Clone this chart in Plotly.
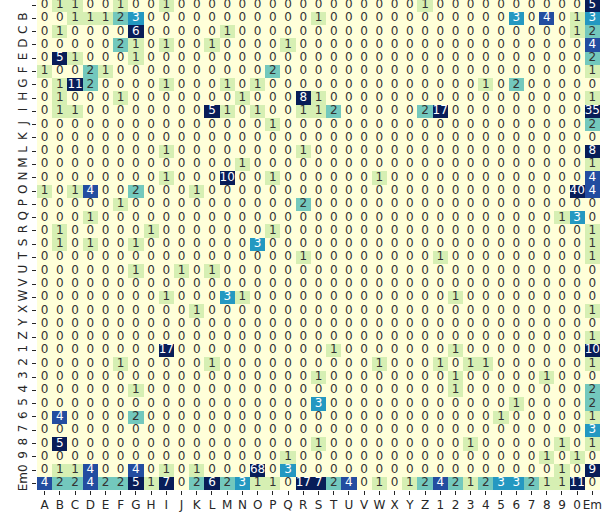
import plotly.graph_objects as go

labels = list("ABCDEFGHIJKLMNOPQRSTUVWXYZ") + ["1", "2", "3", "4", "5", "6", "7", "8", "9", "0", "Em"]

# rows = true class, columns = predicted class (same label order)
row_A  = [0,1,1,0,0,1,0,0,1,0, 0,0,0,0,0,0,0,0,0,0, 0,0,0,0,0,1,0,0,0,0, 0,0,0,0,0,0,5]
row_B  = [0,0,1,1,1,2,3,0,0,0, 0,0,0,0,0,0,0,0,1,0, 0,0,0,0,0,0,0,0,0,0, 0,3,0,4,0,1,3]
row_C  = [0,1,0,0,0,0,6,0,0,0, 0,0,1,0,0,0,0,0,0,0, 0,0,0,0,0,0,0,0,0,0, 0,0,0,0,0,1,2]
row_D  = [0,0,0,0,0,2,1,0,1,0, 0,1,0,0,0,0,1,0,0,0, 0,0,0,0,0,0,0,0,0,0, 0,0,0,0,0,0,4]
row_E  = [0,5,1,0,0,0,1,0,0,0, 0,0,0,0,0,0,0,0,0,0, 0,0,0,0,0,0,0,0,0,0, 0,0,0,0,0,0,2]
row_F  = [1,0,0,2,1,0,0,0,0,0, 0,0,0,0,0,2,0,0,0,0, 0,0,0,0,0,0,0,0,0,0, 0,0,0,0,0,0,1]
row_G  = [0,1,11,2,0,0,0,0,1,0, 0,0,1,0,1,0,0,0,0,0, 0,0,0,0,0,0,0,0,0,1, 0,2,0,0,0,0,0]
row_H  = [0,1,0,0,0,1,0,0,0,0, 0,0,0,1,0,0,0,8,1,0, 0,0,0,0,0,0,0,0,0,0, 0,0,0,0,0,0,1]
row_I  = [0,1,1,0,0,0,0,0,0,0, 0,5,1,0,1,0,0,1,1,2, 0,0,0,0,0,2,17,0,0,0, 0,0,0,0,0,0,35]
row_J  = [0,0,0,0,0,0,0,0,0,0, 0,0,0,0,0,1,0,0,0,0, 0,0,0,0,0,0,0,0,0,0, 0,0,0,0,0,0,2]
row_K  = [0,0,0,0,0,0,0,0,0,0, 0,0,0,0,0,0,0,0,0,0, 0,0,0,0,0,0,0,0,0,0, 0,0,0,0,0,0,0]
row_L  = [0,0,0,0,0,0,0,0,1,0, 0,0,0,0,0,0,0,1,0,0, 0,0,0,0,0,0,0,0,0,0, 0,0,0,0,0,0,8]
row_M  = [0,0,0,0,0,0,0,0,0,0, 0,0,0,1,0,0,0,0,0,0, 0,0,0,0,0,0,0,0,0,0, 0,0,0,0,0,0,1]
row_N  = [0,0,0,0,0,0,0,0,1,0, 0,0,10,0,0,1,0,0,0,0, 0,0,1,0,0,0,0,0,0,0, 0,0,0,0,0,0,4]
row_O  = [1,0,1,4,0,0,2,0,0,0, 1,0,0,0,0,0,0,0,0,0, 0,0,0,0,0,0,0,0,0,0, 0,0,0,0,0,40,4]
row_P  = [0,0,0,0,0,1,0,0,0,0, 0,0,0,0,0,0,0,2,0,0, 0,0,0,0,0,0,0,0,0,0, 0,0,0,0,0,0,0]
row_Q  = [0,0,0,1,0,0,0,0,0,0, 0,0,0,0,0,0,0,0,0,0, 0,0,0,0,0,0,0,0,0,0, 0,0,0,0,1,3,0]
row_R  = [0,1,0,0,0,0,0,1,0,0, 0,0,0,0,0,1,0,0,0,0, 0,0,0,0,0,0,0,0,0,0, 0,0,0,0,0,0,1]
row_S  = [0,1,0,1,0,0,1,0,0,0, 0,0,0,0,3,0,0,0,0,0, 0,0,0,0,0,0,0,0,0,0, 0,0,0,0,0,0,1]
row_T  = [0,0,0,0,0,0,0,0,0,0, 0,0,0,0,0,0,0,1,0,0, 0,0,0,0,0,0,1,0,0,0, 0,0,0,0,0,0,1]
row_U  = [0,0,0,0,0,0,1,0,0,1, 0,1,0,0,0,0,0,0,0,0, 0,0,0,0,0,0,0,0,0,0, 0,0,0,0,0,0,0]
row_V  = [0,0,0,0,0,0,0,0,0,0, 0,0,0,0,0,0,0,0,0,0, 0,0,0,0,0,0,0,0,0,0, 0,0,0,0,0,0,0]
row_W  = [0,0,0,0,0,0,0,0,1,0, 0,0,3,1,0,0,0,0,0,0, 0,0,0,0,0,0,0,1,0,0, 0,0,0,0,0,0,0]
row_X  = [0,0,0,0,0,0,0,0,0,0, 1,0,0,0,0,0,0,0,0,0, 0,0,0,0,0,0,0,0,0,0, 0,0,0,0,0,0,1]
row_Y  = [0,0,0,0,0,0,0,0,0,0, 0,0,0,0,0,0,0,0,0,0, 0,0,0,0,0,0,0,0,0,0, 0,0,0,0,0,0,0]
row_Z  = [0,0,0,0,0,0,0,0,0,0, 0,0,0,0,0,0,0,0,0,0, 0,0,0,0,0,0,0,0,0,0, 0,0,0,0,0,0,1]
row_1  = [0,0,0,0,0,0,0,0,17,0, 0,0,0,0,0,0,0,0,0,1, 0,0,0,0,0,0,0,1,0,0, 0,0,0,0,0,0,10]
row_2  = [0,0,0,0,0,1,0,0,0,0, 0,1,0,0,0,0,0,0,0,0, 0,0,1,0,0,0,1,0,1,1, 0,0,0,0,0,0,1]
row_3  = [0,0,0,0,0,0,0,0,0,0, 0,0,0,0,0,0,0,0,1,0, 0,0,0,0,0,0,0,1,0,0, 0,0,0,1,0,0,0]
row_4  = [0,0,0,0,0,0,1,0,0,0, 0,0,0,0,0,0,0,0,0,0, 0,0,0,0,0,0,0,1,0,0, 0,0,0,0,0,0,2]
row_5  = [0,0,0,0,0,0,0,0,0,0, 0,0,0,0,0,0,0,0,3,0, 0,0,0,0,0,0,0,0,0,0, 0,1,0,0,0,0,2]
row_6  = [0,4,0,0,0,0,2,0,0,0, 0,0,0,0,0,0,0,0,0,0, 0,0,0,0,0,0,0,0,0,0, 1,0,0,0,0,0,1]
row_7  = [0,0,0,0,0,0,0,0,0,0, 0,0,0,0,0,0,0,0,0,0, 0,0,0,0,0,0,0,0,0,0, 0,0,0,0,0,0,3]
row_8  = [0,5,0,0,0,0,0,0,0,0, 0,0,0,0,0,0,0,0,1,0, 0,0,0,0,0,0,0,0,1,0, 0,0,0,0,1,0,1]
row_9  = [0,0,0,0,0,0,0,0,0,0, 0,0,0,0,0,0,1,0,0,0, 0,0,0,0,0,0,0,0,0,0, 0,0,0,1,0,1,0]
row_0  = [0,1,1,4,0,0,4,0,1,0, 1,0,0,0,68,0,3,0,0,0, 0,0,0,0,0,0,0,0,0,0, 0,0,0,0,1,0,9]
row_Em = [4,2,2,4,2,2,5,1,7,0, 2,6,2,3,1,1,0,17,7,2, 4,0,1,0,1,2,4,2,1,2, 3,3,2,1,1,11,0]

counts = [row_A, row_B, row_C, row_D, row_E, row_F, row_G, row_H, row_I, row_J,
          row_K, row_L, row_M, row_N, row_O, row_P, row_Q, row_R, row_S, row_T,
          row_U, row_V, row_W, row_X, row_Y, row_Z, row_1, row_2, row_3, row_4,
          row_5, row_6, row_7, row_8, row_9, row_0, row_Em]

ylgnbu = ["#ffffd9", "#edf8b1", "#c7e9b4", "#7fcdbb", "#41b6c4",
          "#1d91c0", "#225ea8", "#253494", "#081d58"]
colorscale = [[i / (len(ylgnbu) - 1), c] for i, c in enumerate(ylgnbu)]

n = len(labels)
idx = list(range(n))

fig = go.Figure()
fig.add_trace(go.Heatmap(
    z=counts, x=idx, y=idx, zmin=0, zmax=5,
    colorscale=colorscale, showscale=False, hoverinfo="skip",
))

dark_x, dark_y, dark_t, light_x, light_y, light_t = [], [], [], [], [], []
for r, row in enumerate(counts):
    for c, v in enumerate(row):
        if v >= 3:
            light_x.append(c); light_y.append(r); light_t.append(str(v))
        else:
            dark_x.append(c); dark_y.append(r); dark_t.append(str(v))

fig.add_trace(go.Scatter(x=dark_x, y=dark_y, text=dark_t, mode="text",
                         textfont=dict(family="DejaVu Sans", size=12, color="#333333"),
                         hoverinfo="skip", showlegend=False, cliponaxis=True))
fig.add_trace(go.Scatter(x=light_x, y=light_y, text=light_t, mode="text",
                         textfont=dict(family="DejaVu Sans", size=12, color="#ffffff"),
                         hoverinfo="skip", showlegend=False, cliponaxis=True))

fig.update_layout(
    template="none",
    width=608, height=514,
    margin=dict(l=37, r=8, t=0, b=24, autoexpand=False),
    paper_bgcolor="white", plot_bgcolor="white",
    font=dict(family="DejaVu Sans", size=12, color="#262626"),
    showlegend=False,
)
fig.update_xaxes(
    range=[-0.5, n - 0.5], tickmode="array", tickvals=idx, ticktext=labels,
    ticks="outside", ticklen=4, tickwidth=1, tickcolor="#262626",
    showgrid=False, zeroline=False, showline=False, tickangle=0,
    tickfont=dict(size=12), automargin=False,
)
fig.update_yaxes(
    range=[n - 0.5, -0.38], tickmode="array", tickvals=idx, ticktext=labels,
    ticks="outside", ticklen=4, tickwidth=1, tickcolor="#262626",
    showgrid=False, zeroline=False, showline=False, tickangle=-90,
    tickfont=dict(size=12), automargin=False,
)

fig.write_html(
    "out.html",
    config={"displayModeBar": False},
    post_script="document.body.style.margin='0';document.body.style.overflow='hidden';",
)
